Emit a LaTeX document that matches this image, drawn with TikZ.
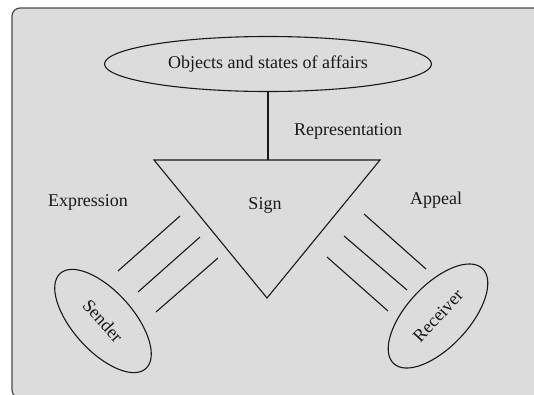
\documentclass[tikz,border=0pt]{standalone}
\usepackage{fontspec}
\setmainfont{Liberation Serif}
\usetikzlibrary{shapes.geometric}
\definecolor{bgfill}{HTML}{DCDCDC}
\definecolor{bgline}{HTML}{4A4A4A}
\begin{document}
\begin{tikzpicture}[x=1pt,y=1pt,
  every node/.style={font=\fontsize{18}{20}\selectfont, text=black!90},
  ln/.style={line width=1.1pt, black!90},
  oval/.style={ellipse, draw, line width=1.1pt, black!90, inner sep=0pt},
  lbl/.style={inner sep=0pt}]
\useasboundingbox (0,0) rectangle (534,-394);
\draw[fill=bgfill, draw=bgline, line width=1.2pt, rounded corners=8pt] (12,-8) rectangle (548,-398);
% top ellipse
\node[oval, minimum width=327pt, minimum height=55pt] (obj) at (268,-64) {Objects and states of affairs};
% triangle
\coordinate (T1) at (154,-160);
\coordinate (T2) at (380,-160);
\coordinate (T3) at (267,-298);
\draw[ln, line join=miter] (T1) -- (T2) -- (T3) -- cycle;
\coordinate (TT) at (268,-160);
\draw[ln] (obj.south -| TT) -- (TT);
\node[lbl] (sign) at (265,-205) {Sign};
\node[lbl] (rep) at (348,-131) {Representation};
\node[lbl] (expr) at (88,-202) {Expression};
\node[lbl] (app) at (436,-200) {Appeal};
% sender / receiver
\node[oval, minimum width=128pt, minimum height=60pt, rotate=-48] (snd) at (103,-321) {Sender};
\node[oval, minimum width=130pt, minimum height=62pt, rotate=47] (rcv) at (438,-316) {Receiver};
% left lines
\coordinate (La1) at (118,-271); \coordinate (Lb1) at (180,-216);
\coordinate (La2) at (138,-292); \coordinate (Lb2) at (200,-237);
\coordinate (La3) at (156,-312); \coordinate (Lb3) at (218,-258);
\draw[ln] (La1) -- (Lb1);
\draw[ln] (La2) -- (Lb2);
\draw[ln] (La3) -- (Lb3);
% right lines
\coordinate (Ra1) at (364,-214); \coordinate (Rb1) at (426,-269);
\coordinate (Ra2) at (344,-236); \coordinate (Rb2) at (407,-290);
\coordinate (Ra3) at (327,-257); \coordinate (Rb3) at (388,-311);
\draw[ln] (Ra1) -- (Rb1);
\draw[ln] (Ra2) -- (Rb2);
\draw[ln] (Ra3) -- (Rb3);
\end{tikzpicture}
\end{document}
